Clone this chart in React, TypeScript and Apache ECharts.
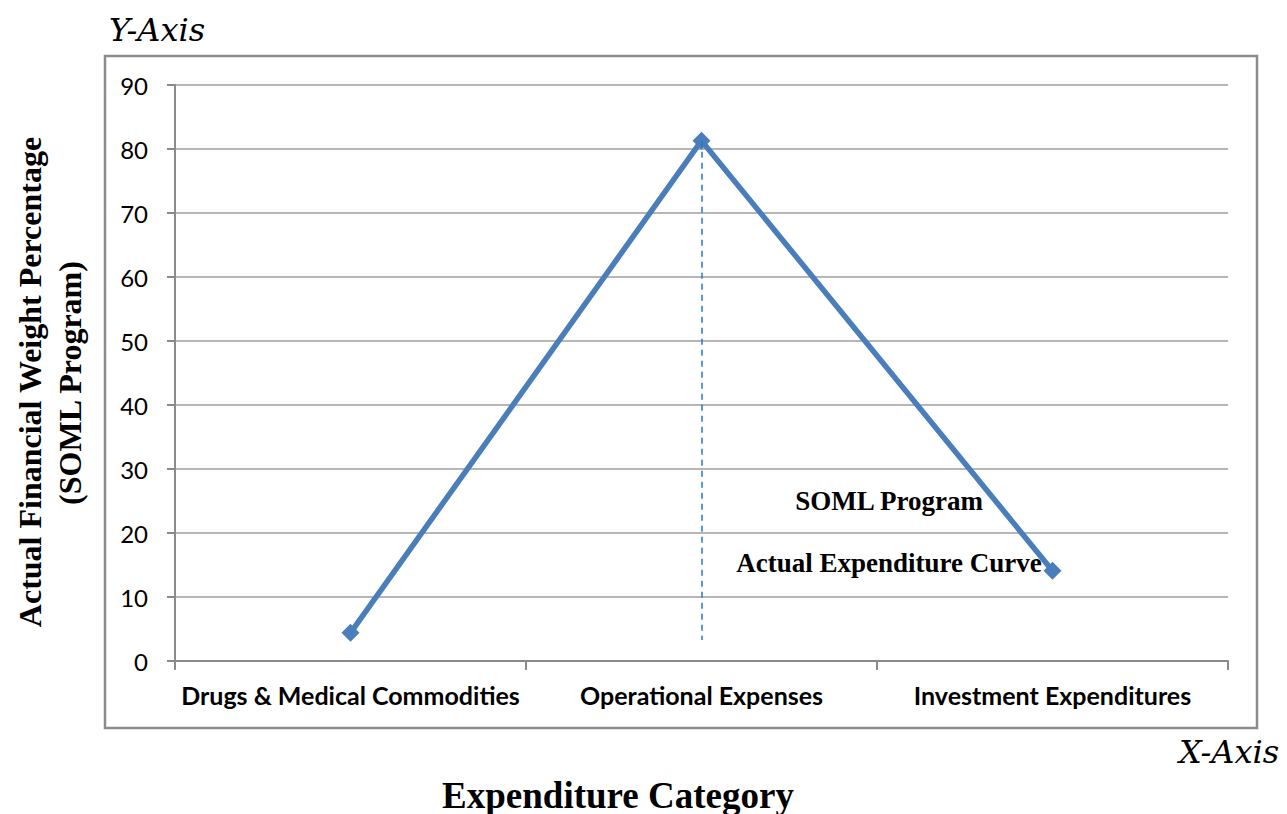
import React, { useEffect, useRef } from "react";
import * as echarts from "echarts";

const categories = ["Drugs & Medical Commodities", "Operational Expenses", "Investment Expenditures"];
const actualValues = [4.4, 81.3, 14.1];
const dashedFrom = ["Operational Expenses", 81.3];
const dashedTo = ["Operational Expenses", 3.3];
const yTicks = { min: 0, max: 90, interval: 10 };

export default function App() {
  const ref = useRef<HTMLDivElement>(null);
  useEffect(() => {
    document.body.style.margin = "0";
    const chart = echarts.init(ref.current!, null, { renderer: "svg" });
    chart.setOption({
      animation: false,
      backgroundColor: "#ffffff",
      grid: { left: 175, right: 59, top: 85, bottom: 153 },
      xAxis: {
        type: "category",
        data: categories,
        boundaryGap: true,
        axisLine: { lineStyle: { color: "#8a8a8a", width: 2 } },
        axisTick: { show: true, interval: 0, length: 9, lineStyle: { color: "#8a8a8a", width: 2 } },
        axisLabel: {
          interval: 0,
          color: "#000",
          fontFamily: "Lato",
          fontWeight: "bold",
          fontSize: 25,
          margin: 21,
        },
      },
      yAxis: {
        type: "value",
        min: yTicks.min,
        max: yTicks.max,
        interval: yTicks.interval,
        axisLine: { show: true, lineStyle: { color: "#8a8a8a", width: 2 } },
        axisTick: { show: true, length: 8, lineStyle: { color: "#8a8a8a", width: 2 } },
        splitLine: { lineStyle: { color: "#9e9e9e", width: 1.5 } },
        axisLabel: { color: "#000", fontFamily: "Lato", fontSize: 24, margin: 27 },
      },
      series: [
        {
          type: "line",
          data: [],
          z: 1,
          markLine: {
            silent: true,
            symbol: ["none", "none"],
            label: { show: false },
            lineStyle: { color: "#1f78d1", width: 1.5, type: [6, 5] },
            data: [[{ coord: dashedFrom }, { coord: dashedTo }]],
          },
        },
        {
          type: "line",
          data: actualValues,
          z: 3,
          symbol: "diamond",
          symbolSize: 18,
          lineStyle: { color: "#4a7ebb", width: 5.5 },
          itemStyle: { color: "#4a7ebb" },
        },
      ],
      graphic: [
        {
          type: "rect",
          shape: { x: 105, y: 56, width: 1152, height: 672 },
          style: { fill: "none", stroke: "#8c8c8c", lineWidth: 2.5 },
          z: -1,
        },
        {
          type: "text",
          x: 157,
          y: 30,
          style: {
            text: "Y-Axis",
            font: "italic 32px 'DejaVu Serif'",
            fill: "#000",
            align: "center",
            verticalAlign: "middle",
          },
        },
        {
          type: "text",
          x: 1229,
          y: 752,
          style: {
            text: "X-Axis",
            font: "italic 32px 'DejaVu Serif'",
            fill: "#000",
            align: "center",
            verticalAlign: "middle",
          },
        },
        {
          type: "text",
          x: 30,
          y: 382,
          rotation: Math.PI / 2,
          style: {
            text: "Actual Financial Weight Percentage",
            font: "bold 32px 'Liberation Serif'",
            fill: "#000",
            align: "center",
            verticalAlign: "middle",
          },
        },
        {
          type: "text",
          x: 70,
          y: 383,
          rotation: Math.PI / 2,
          style: {
            text: "(SOML Program)",
            font: "bold 32px 'Liberation Serif'",
            fill: "#000",
            align: "center",
            verticalAlign: "middle",
          },
        },
        {
          type: "text",
          x: 618,
          y: 795,
          style: {
            text: "Expenditure Category",
            font: "bold 37px 'Liberation Serif'",
            fill: "#000",
            align: "center",
            verticalAlign: "middle",
          },
        },
        {
          type: "text",
          x: 889,
          y: 501,
          style: {
            text: "SOML Program",
            font: "bold 27px 'Liberation Serif'",
            fill: "#000",
            align: "center",
            verticalAlign: "middle",
          },
        },
        {
          type: "text",
          x: 889,
          y: 563,
          style: {
            text: "Actual Expenditure Curve",
            font: "bold 27px 'Liberation Serif'",
            fill: "#000",
            align: "center",
            verticalAlign: "middle",
          },
        },
      ],
    });
    return () => chart.dispose();
  }, []);
  return <div ref={ref} style={{ width: 1287, height: 814 }} />;
}
